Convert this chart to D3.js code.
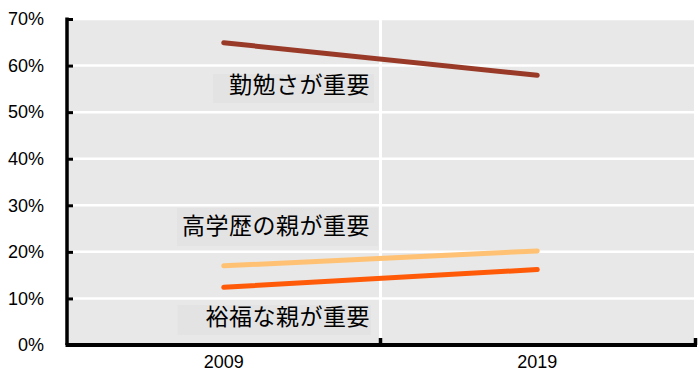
<!DOCTYPE html>
<html><head><meta charset="utf-8">
<script src="https://cdn.jsdelivr.net/npm/d3@7"></script>
<style>body{margin:0;background:#fff}svg{display:block}</style>
</head><body><svg id="c" width="700" height="379"></svg>
<script>
const years = ["2009", "2019"];
const seriesNames = ["勤勉さが重要", "高学歴の親が重要", "裕福な親が重要"];
const seriesColors = ["#993a28", "#ffc274", "#ff5a08"];
const hardWork = [0.649, 0.579];
const eduParents = [0.170, 0.202];
const richParents = [0.124, 0.162];
const yTicks = [0, 0.1, 0.2, 0.3, 0.4, 0.5, 0.6, 0.7];
const labelValues = [0.5626, 0.2598, 0.0644];

const series = [hardWork, eduParents, richParents];
// label background box padding: [left, right, top, bottom]
const boxPad = [[16, 4, 12, 17], [5, 8, 19, 19], [28, 1, 13, 17]];
const svg = d3.select("#c");
const L = 67, R = 694, T = 19, B = 345;
const x = d3.scaleBand().domain(years).range([L, R]);
const y = d3.scaleLinear().domain([0, 0.7]).range([B, T]);

svg.append("rect").attr("x", L).attr("y", T).attr("width", R - L).attr("height", B - T).attr("fill", "#e8e8e8");
// horizontal gridlines
svg.selectAll(".hg").data(yTicks.slice(1)).join("line")
  .attr("x1", L).attr("x2", R).attr("y1", d => y(d)).attr("y2", d => y(d))
  .attr("stroke", "#fff").attr("stroke-width", 2.5);
// vertical gridline between categories
svg.append("line").attr("x1", x("2019")).attr("x2", x("2019")).attr("y1", T).attr("y2", B)
  .attr("stroke", "#fff").attr("stroke-width", 3);

// labels with background boxes
const lblG = svg.append("g");
series.forEach((s, i) => {
  const t = lblG.append("text")
    .attr("x", 370).attr("y", y(labelValues[i]))
    .attr("text-anchor", "end").attr("dominant-baseline", "central")
    .attr("font-family", "'Noto Sans CJK JP', sans-serif").attr("font-size", 23)
    .attr("letter-spacing", 0.5).attr("fill", "#000").text(seriesNames[i]);
  const bb = t.node().getBBox();
  const p = boxPad[i];
  const cy = y(labelValues[i]) + 3;
  lblG.insert("rect", "text").attr("x", bb.x - p[0]).attr("y", cy - p[2])
    .attr("width", bb.width + p[0] + p[1]).attr("height", p[2] + p[3])
    .attr("fill", "#e3e3e3");
});

// lines
const line = d3.line().x((d, i) => x(years[i]) + x.bandwidth() / 2).y(d => y(d));
series.forEach((s, i) => {
  svg.append("path").datum(s).attr("d", line).attr("fill", "none")
    .attr("stroke", seriesColors[i]).attr("stroke-width", 5).attr("stroke-linecap", "round");
});

// y axis
const yAxis = d3.axisLeft(y).tickValues(yTicks).tickFormat(d3.format(".0%")).tickSize(-6).tickPadding(23);
const ya = svg.append("g").attr("transform", `translate(${L},0)`).call(yAxis);
ya.select(".domain").attr("stroke", "#000").attr("stroke-width", 3.5);
ya.selectAll(".tick line").attr("stroke", "#000").attr("stroke-width", 3);
ya.selectAll(".tick text").attr("font-family", "'Liberation Sans', Arial, sans-serif").attr("font-size", 18).attr("fill", "#000");
ya.select(".domain").attr("d", `M0,${T - 1.5}V${B}`);

// x axis
const xa = svg.append("g").attr("transform", `translate(0,${B})`)
  .call(d3.axisBottom(x).tickSize(0).tickPadding(10));
xa.select(".domain").remove();
xa.append("line").attr("x1", L - 1.5).attr("x2", R + 3).attr("y1", 0).attr("y2", 0).attr("stroke", "#000").attr("stroke-width", 4);
xa.selectAll(".tick text").attr("font-family", "'Liberation Sans', Arial, sans-serif").attr("font-size", 18).attr("fill", "#000");
// x ticks at band boundaries
xa.selectAll(".bt").data([x("2019"), R + 1.5]).join("line")
  .attr("x1", d => d).attr("x2", d => d).attr("y1", 0).attr("y2", -7).attr("stroke", "#000").attr("stroke-width", 3.5);
</script></body></html>
